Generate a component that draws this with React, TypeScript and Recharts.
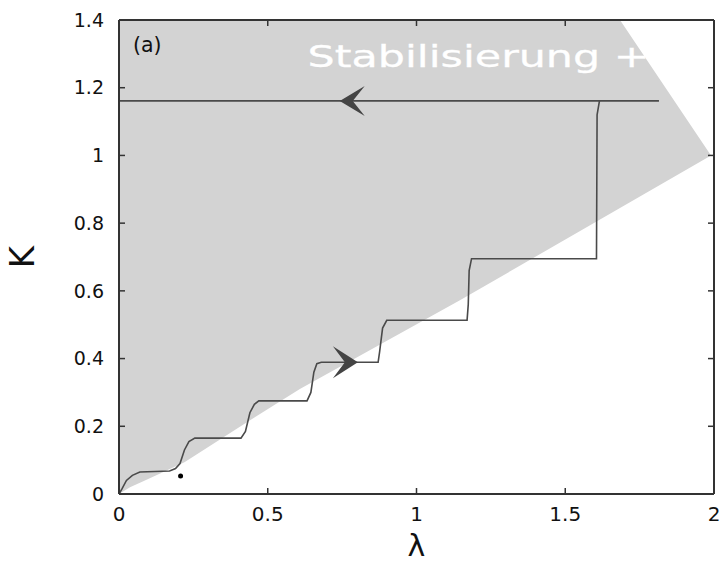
import React from 'react';
import { ComposedChart, Area, Line, XAxis, YAxis, ReferenceLine, ReferenceDot } from 'recharts';

// ---- data ----
const lambdaTicks = [0, 0.5, 1, 1.5, 2];
const kTicks = [0, 0.2, 0.4, 0.6, 0.8, 1, 1.2, 1.4];

// gray (stable) region: lower and upper boundary
const regionLambda = [0, 0.037, 0.1, 0.22, 0.43, 0.608, 1.146, 1.684, 1.99];
const regionLow = [0, 0.02, 0.045, 0.094, 0.212, 0.31, 0.572, 0.845, 1.0];
const regionHigh = [1.4, 1.4, 1.4, 1.4, 1.4, 1.4, 1.4, 1.4, 1.0];

// staircase (increasing lambda)
const stairLambda = [0, 0.01, 0.025, 0.045, 0.07, 0.17, 0.19, 0.205, 0.22, 0.235, 0.255, 0.41, 0.425, 0.44, 0.455, 0.47, 0.632, 0.645, 0.655, 0.665, 0.68, 0.871, 0.876, 0.886, 0.9, 1.17, 1.174, 1.177, 1.185, 1.605, 1.606, 1.607, 1.615];
const stairK = [0, 0.015, 0.04, 0.055, 0.065, 0.068, 0.075, 0.09, 0.13, 0.155, 0.165, 0.165, 0.185, 0.24, 0.265, 0.275, 0.275, 0.3, 0.36, 0.385, 0.389, 0.389, 0.42, 0.49, 0.513, 0.513, 0.56, 0.66, 0.695, 0.695, 0.9, 1.12, 1.161];

// return path (decreasing lambda)
const returnLambda = [0, 1.815];
const returnK = [1.161, 1.161];

// arrow tips and marker
const arrowRight = { x: 0.803, y: 0.389 };
const arrowLeft = { x: 0.742, y: 1.161 };
const markerDot = { x: 0.207, y: 0.053 };

// annotations (text anchor points in data coordinates)
const panelLabel = { x: 0.047, y: 1.305, text: '(a)' };
const handNote = { x: 0.634, y: 1.26, text: 'Stabilisierung +' };

// ---- layout ----
const W = 722;
const H = 563;
const X_MIN = 0, X_MAX = 2, Y_MIN = 0, Y_MAX = 1.4;
const TICK_PX = 6;

const FONT = 'DejaVu Sans, Liberation Sans, Arial, sans-serif';
const LINE = '#4a4a4a';
const GRAY = '#d3d3d3';
const FRAME = '#333';

const regionData = regionLambda.map((x, i) => ({ x, lo: regionLow[i], hi: regionHigh[i] }));
const stairData = stairLambda.map((x, i) => ({ x, stairK: stairK[i] }));
const returnData = returnLambda.map((x, i) => ({ x, returnK: returnK[i] }));

// frame sides (drawn as stroked, unfilled areas)
const frameBottom = [{ x: X_MIN, fb: Y_MIN }, { x: X_MAX, fb: Y_MIN }];
const frameTop = [{ x: X_MIN, ft: Y_MAX }, { x: X_MAX, ft: Y_MAX }];
const frameLeft = [{ x: X_MIN, fl: Y_MIN }, { x: X_MIN, fl: Y_MAX }];
const frameRight = [{ x: X_MAX, fr: Y_MIN }, { x: X_MAX, fr: Y_MAX }];

const RightArrow = (p: any) => {
  const { cx, cy } = p;
  const pts = [[0, 0], [-25, -16], [-13, 0], [-25, 16]].map(([a, b]) => `${cx + a},${cy + b}`).join(' ');
  return <polygon points={pts} fill="#444" />;
};
const LeftArrow = (p: any) => {
  const { cx, cy } = p;
  const pts = [[0, 0], [25, -15], [13, 0], [25, 15]].map(([a, b]) => `${cx + a},${cy + b}`).join(' ');
  return <polygon points={pts} fill="#444" />;
};
const Dot = (p: any) => <circle cx={p.cx} cy={p.cy} r={2.5} fill="#000" />;
const PanelText = (p: any) => (
  <text x={p.cx} y={p.cy} fontFamily={FONT} fontSize={20.5} fill="#111">{panelLabel.text}</text>
);
const HandText = (p: any) => (
  <text x={p.cx} y={p.cy} fontFamily={FONT} fontSize={31} fill="#fff" stroke="#fff" strokeWidth={0.3}
    textLength={342} lengthAdjust="spacingAndGlyphs">{handNote.text}</text>
);
const mkTick = (dx: number, dy: number) => (p: any) => (
  <line x1={p.cx} y1={p.cy} x2={p.cx + dx * TICK_PX} y2={p.cy + dy * TICK_PX} stroke={FRAME} strokeWidth={1.5} />
);
const TickUp = mkTick(0, -1);
const TickDown = mkTick(0, 1);
const TickRight = mkTick(1, 0);
const TickLeft = mkTick(-1, 0);

const innerLambda = lambdaTicks.slice(1, -1);
const innerK = kTicks.slice(1, -1);

export default function App() {
  return (
    <div style={{ position: 'absolute', left: 0, top: 0, background: '#fff' }}>
      <ComposedChart width={W} height={H} margin={{ top: 20, right: 8, bottom: 0, left: 0 }}>
        <XAxis type="number" dataKey="x" domain={[X_MIN, X_MAX]} ticks={lambdaTicks} height={69}
          axisLine={{ stroke: FRAME, strokeWidth: 2 }} tickLine={false} tickMargin={7}
          tick={{ fill: '#111', fontSize: 20, fontFamily: FONT }}
          label={{ value: 'λ', position: 'insideBottom', offset: 7, fill: '#111', fontSize: 30, fontFamily: FONT }} />
        <YAxis type="number" domain={[Y_MIN, Y_MAX]} ticks={kTicks} width={119}
          axisLine={{ stroke: FRAME, strokeWidth: 2 }} tickLine={false} tickMargin={9}
          tick={{ fill: '#111', fontSize: 19, fontFamily: FONT }}
          label={{ value: 'K', angle: -90, position: 'insideLeft', offset: 22, fill: '#111', fontSize: 34, fontFamily: FONT, style: { textAnchor: 'middle' } }} />

        <Area data={regionData} dataKey={(d: any) => [d.lo, d.hi]} type="linear" stroke="none"
          fill={GRAY} fillOpacity={1} isAnimationActive={false} />

        <Line data={stairData} dataKey="stairK" type="linear" stroke={LINE} strokeWidth={1.6} dot={false} isAnimationActive={false} />
        <Line data={returnData} dataKey="returnK" type="linear" stroke={LINE} strokeWidth={1.6} dot={false} isAnimationActive={false} />

        {/* frame as unfilled stroked areas */}
        <Area data={frameBottom} dataKey="fb" type="linear" stroke={FRAME} strokeWidth={2} fill="none" isAnimationActive={false} />
        <Area data={frameTop} dataKey="ft" type="linear" stroke={FRAME} strokeWidth={2} fill="none" isAnimationActive={false} />
        <Area data={frameLeft} dataKey="fl" type="linear" stroke={FRAME} strokeWidth={2} fill="none" isAnimationActive={false} />
        <Area data={frameRight} dataKey="fr" type="linear" stroke={FRAME} strokeWidth={2} fill="none" isAnimationActive={false} />

        {/* frame as reference lines */}
        <ReferenceLine y={Y_MAX} stroke={FRAME} strokeWidth={2} />
        <ReferenceLine x={X_MAX} stroke={FRAME} strokeWidth={2} />

        {/* inward ticks */}
        {innerLambda.map((t) => (
          <ReferenceDot key={'xb' + t} x={t} y={Y_MIN} r={1} ifOverflow="visible" shape={TickUp} />
        ))}
        {innerLambda.map((t) => (
          <ReferenceDot key={'xt' + t} x={t} y={Y_MAX} r={1} ifOverflow="visible" shape={TickDown} />
        ))}
        {innerK.map((t) => (
          <ReferenceDot key={'yl' + t} x={X_MIN} y={t} r={1} ifOverflow="visible" shape={TickRight} />
        ))}
        {innerK.map((t) => (
          <ReferenceDot key={'yr' + t} x={X_MAX} y={t} r={1} ifOverflow="visible" shape={TickLeft} />
        ))}

        <ReferenceDot x={arrowRight.x} y={arrowRight.y} r={1} shape={RightArrow} />
        <ReferenceDot x={arrowLeft.x} y={arrowLeft.y} r={1} shape={LeftArrow} />
        <ReferenceDot x={markerDot.x} y={markerDot.y} r={2.5} shape={Dot} />
        <ReferenceDot x={panelLabel.x} y={panelLabel.y} r={1} shape={PanelText} />
        <ReferenceDot x={handNote.x} y={handNote.y} r={1} shape={HandText} />
      </ComposedChart>
    </div>
  );
}
